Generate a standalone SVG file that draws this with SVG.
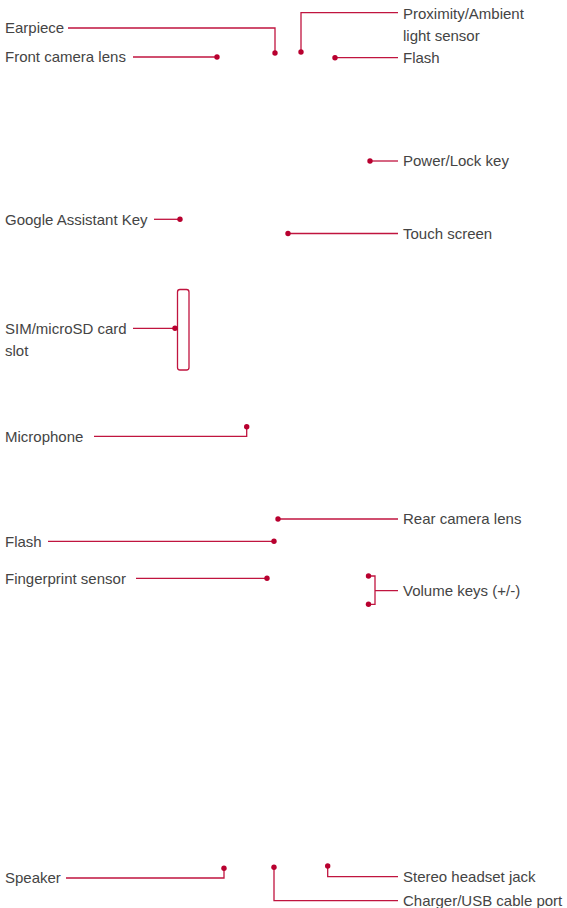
<svg xmlns="http://www.w3.org/2000/svg" width="567" height="908" viewBox="0 0 567 908">
<style>
.t{font-family:"Liberation Sans",Arial,sans-serif;font-size:15px;fill:#444444}
.c{fill:none;stroke:#c0143f;stroke-width:1.3}
.d{fill:#b8002f}
</style>
<rect width="567" height="908" fill="#ffffff"/>
<g id="connectors">
<path class="c" d="M68 28H275V53"/>
<path class="c" d="M301 52V12.7H398"/>
<path class="c" d="M133 57H217"/>
<path class="c" d="M335 57.7H398"/>
<path class="c" d="M370 161H398"/>
<path class="c" d="M154 219.3H180"/>
<path class="c" d="M288 233.5H398"/>
<path class="c" d="M133 328.3H175"/>
<rect class="c" x="177.5" y="289.5" width="11.5" height="80.5" rx="2.5"/>
<path class="c" d="M94 436.3H246.7V426.7"/>
<path class="c" d="M278 519H398"/>
<path class="c" d="M48 541.3H274"/>
<path class="c" d="M136 578.3H267"/>
<path class="c" d="M368.5 576H375V604.3H368.5M375 590.7H398"/>
<path class="c" d="M66 878H224V868.3"/>
<path class="c" d="M327.7 866V876.7H398"/>
<path class="c" d="M274 867.3V900.7H398"/>
</g>
<g id="earpiece"><text class="t" x="5" y="33.4">Earpiece</text><circle class="d" cx="275" cy="53" r="2.7"/></g>
<g id="proximity"><text class="t" x="403" y="19.3">Proximity/Ambient</text><text class="t" x="403" y="41.3">light sensor</text><circle class="d" cx="301" cy="52" r="2.7"/></g>
<g id="front-camera"><text class="t" x="5" y="62.4">Front camera lens</text><circle class="d" cx="217" cy="57" r="2.7"/></g>
<g id="flash-front"><text class="t" x="403" y="63.1">Flash</text><circle class="d" cx="335" cy="57.7" r="2.7"/></g>
<g id="power-key"><text class="t" x="403" y="166.4">Power/Lock key</text><circle class="d" cx="370" cy="161" r="2.7"/></g>
<g id="google-key"><text class="t" x="5" y="224.7">Google Assistant Key</text><circle class="d" cx="180" cy="219.3" r="2.7"/></g>
<g id="touch-screen"><text class="t" x="403" y="239">Touch screen</text><circle class="d" cx="288" cy="233.5" r="2.7"/></g>
<g id="sim-slot"><text class="t" x="5" y="333.7">SIM/microSD card</text><text class="t" x="5" y="355.7">slot</text><circle class="d" cx="175" cy="328.3" r="2.7"/></g>
<g id="microphone"><text class="t" x="5" y="441.7">Microphone</text><circle class="d" cx="246.7" cy="426.7" r="2.7"/></g>
<g id="rear-camera"><text class="t" x="403" y="524.4">Rear camera lens</text><circle class="d" cx="278" cy="519" r="2.7"/></g>
<g id="flash-rear"><text class="t" x="5" y="546.7">Flash</text><circle class="d" cx="274" cy="541.3" r="2.7"/></g>
<g id="fingerprint"><text class="t" x="5" y="583.7">Fingerprint sensor</text><circle class="d" cx="267" cy="578.3" r="2.7"/></g>
<g id="volume-keys"><text class="t" x="403" y="596">Volume keys (+/-)</text><circle class="d" cx="368.5" cy="576" r="2.7"/><circle class="d" cx="368.5" cy="604.3" r="2.7"/></g>
<g id="speaker"><text class="t" x="5" y="883.4">Speaker</text><circle class="d" cx="224" cy="868.3" r="2.7"/></g>
<g id="headset-jack"><text class="t" x="403" y="882">Stereo headset jack</text><circle class="d" cx="327.7" cy="866" r="2.7"/></g>
<g id="charger-port"><text class="t" x="403" y="905.5">Charger/USB cable port</text><circle class="d" cx="274" cy="867.3" r="2.7"/></g>
</svg>
